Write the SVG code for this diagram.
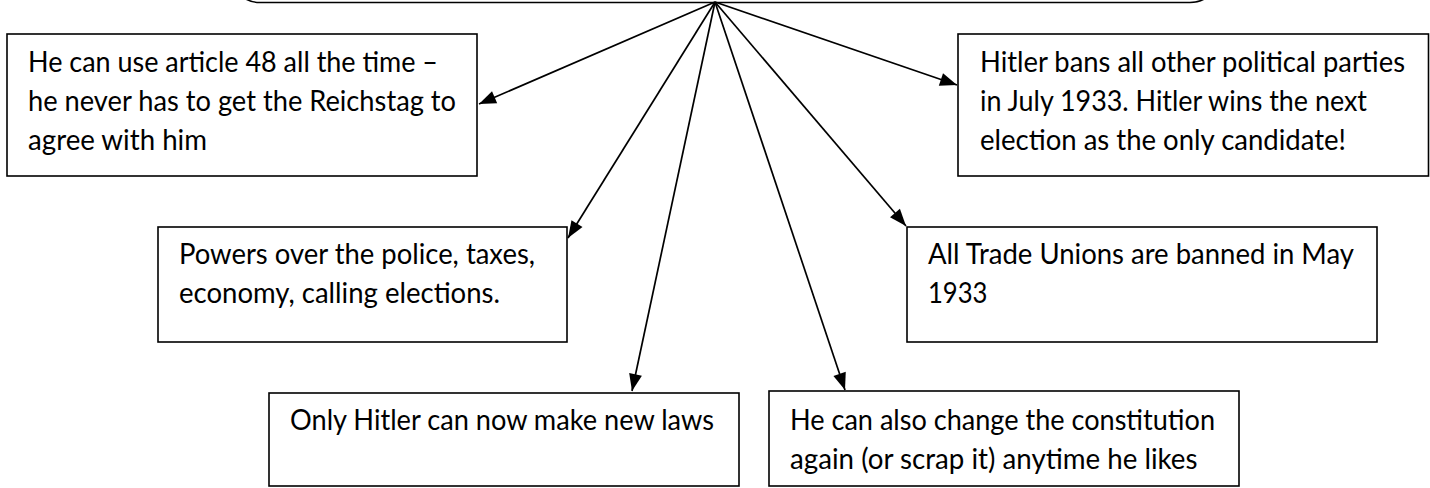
<svg xmlns="http://www.w3.org/2000/svg" width="1430" height="488" viewBox="0 0 1430 488">
<defs>
<style>
.box{fill:#fff;stroke:#000;stroke-width:1.6}
.top{fill:#fff;stroke:#000;stroke-width:1.6}
.t{font-family:Lato,"Liberation Sans",sans-serif;font-size:29px;fill:#000}
.c{stroke:#000;stroke-width:1.7;fill:none;marker-end:url(#ah)}
</style>
<marker id="ah" markerUnits="userSpaceOnUse" markerWidth="17" markerHeight="13" refX="17" refY="6.5" orient="auto" overflow="visible">
<path d="M0,0 L17,6.5 L0,13 z" fill="#000"/>
</marker>
</defs>
<rect width="1430" height="488" fill="#fff"/>
<g id="top-node">
<rect class="top" x="230" y="-60" width="990" height="62.5" rx="30" ry="30"/>
</g>
<g id="n1">
<rect class="box" x="7" y="34" width="470" height="142"/>
<text class="t" x="28" y="72" textLength="410" lengthAdjust="spacingAndGlyphs">He can use article 48 all the time –</text>
<text class="t" x="28" y="111" textLength="428" lengthAdjust="spacingAndGlyphs">he never has to get the Reichstag to</text>
<text class="t" x="28" y="150" textLength="179" lengthAdjust="spacingAndGlyphs">agree with him</text>
</g>
<g id="n2">
<rect class="box" x="958" y="34" width="470.5" height="142"/>
<text class="t" x="980" y="72" textLength="425" lengthAdjust="spacingAndGlyphs">Hitler bans all other political parties</text>
<text class="t" x="980" y="111" textLength="387" lengthAdjust="spacingAndGlyphs">in July 1933. Hitler wins the next</text>
<text class="t" x="980" y="150" textLength="366" lengthAdjust="spacingAndGlyphs">election as the only candidate!</text>
</g>
<g id="n3">
<rect class="box" x="158" y="227" width="409" height="115"/>
<text class="t" x="179" y="264" textLength="356" lengthAdjust="spacingAndGlyphs">Powers over the police, taxes,</text>
<text class="t" x="179" y="303" textLength="321" lengthAdjust="spacingAndGlyphs">economy, calling elections.</text>
</g>
<g id="n4">
<rect class="box" x="907" y="227" width="470" height="115"/>
<text class="t" x="928" y="264" textLength="426" lengthAdjust="spacingAndGlyphs">All Trade Unions are banned in May</text>
<text class="t" x="928" y="303" textLength="59.5" lengthAdjust="spacingAndGlyphs">1933</text>
</g>
<g id="n5">
<rect class="box" x="269" y="393" width="470" height="93"/>
<text class="t" x="290" y="430" textLength="424" lengthAdjust="spacingAndGlyphs">Only Hitler can now make new laws</text>
</g>
<g id="n6">
<rect class="box" x="769" y="391" width="470" height="95"/>
<text class="t" x="790" y="430" textLength="425" lengthAdjust="spacingAndGlyphs">He can also change the constitution</text>
<text class="t" x="790" y="469" textLength="407.5" lengthAdjust="spacingAndGlyphs">again (or scrap it) anytime he likes</text>
</g>
<g id="connectors">
<line class="c" x1="715" y1="2" x2="479" y2="104"/>
<line class="c" x1="715" y1="2" x2="957" y2="85"/>
<line class="c" x1="715" y1="2" x2="568" y2="238"/>
<line class="c" x1="715" y1="2" x2="906" y2="226"/>
<line class="c" x1="715" y1="2" x2="632" y2="391"/>
<line class="c" x1="715" y1="2" x2="845" y2="390"/>
</g>
</svg>
